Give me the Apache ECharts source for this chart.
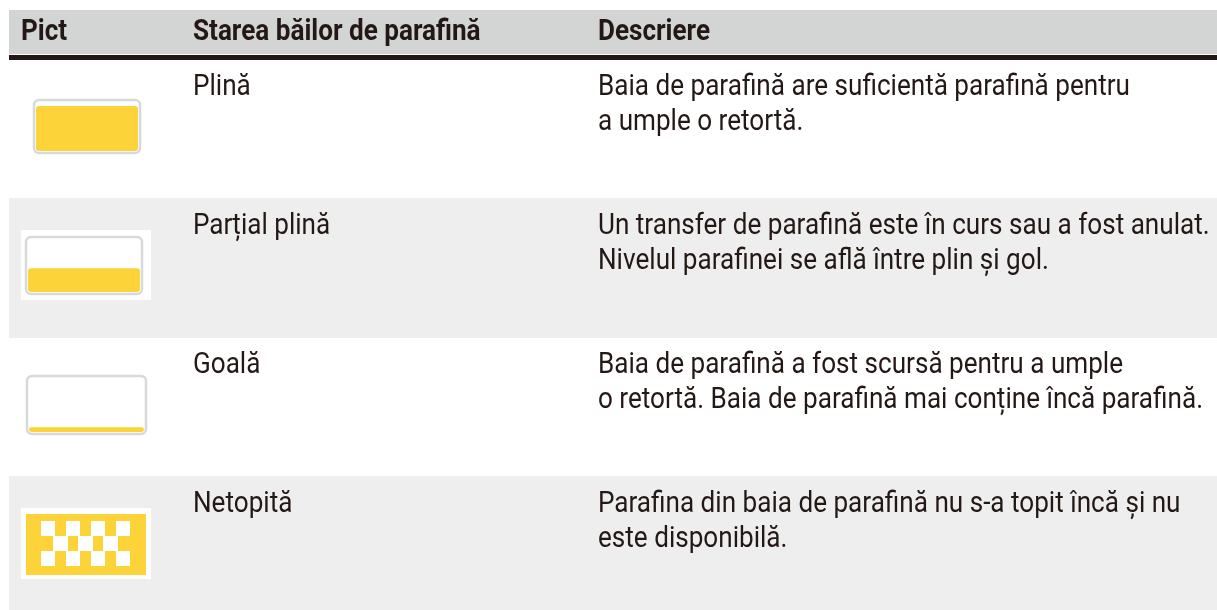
<!DOCTYPE html>
<html>
<head>
<meta charset="utf-8">
<title>Starea băilor de parafină</title>
<style>
    html, body { margin: 0; padding: 0; background: #fff; }
    #chart { width: 1217px; height: 610px; }
</style>
<script src="https://cdn.jsdelivr.net/npm/echarts@6/dist/echarts.min.js"></script>
</head>
<body>
<div id="chart"></div>
<script>
const headers = ['Pict', 'Starea băilor de parafină', 'Descriere'];
const states = ['Plină', 'Parțial plină', 'Goală', 'Netopită'];
const descriptions = [
    'Baia de parafină are suficientă parafină pentru\na umple o retortă.',
    'Un transfer de parafină este în curs sau a fost anulat.\nNivelul parafinei se află între plin și gol.',
    'Baia de parafină a fost scursă pentru a umple\no retortă. Baia de parafină mai conține încă parafină.',
    'Parafina din baia de parafină nu s-a topit încă și nu\neste disponibilă.'
];
// how full each pictogram is, in percent; the last one is the melted-pattern icon
const fillLevels = [92, 45, 9, 100];

const dark = '#231815';
const yellow = '#fdd33a';
const fontBody = '400 29px Roboto';
const fontHead = '700 29px Roboto';
const squeeze = 0.9; // no condensed face installed, so narrow Roboto instead
const columnX = [21, 193, 598];
const rowHeight = 139;
const gridTop = 60;
const gridHeight = 610 - gridTop;

// pictogram placement, top is relative to the row
const icons = [
    {x: 33, top: 39, w: 108, h: 55, inset: 3},
    {x: 25, top: 37, w: 118, h: 59, inset: 3, backing: {x: 21, top: 31, w: 130, h: 70}},
    {x: 26, top: 37, w: 121, h: 60, inset: 3},
    {x: 26, top: 37, w: 120, h: 61, backing: {x: 21, top: 31, w: 130, h: 71}}
];

function rect(x, y, w, h, style, r) {
    return {type: 'rect', shape: {x: x, y: y, width: w, height: h, r: r || 0}, style: style};
}

function label(x, y, text, font) {
    return {
        type: 'text', x: x, y: y, scaleX: squeeze,
        style: {x: 0, y: 0, text: text, font: font, fill: dark, lineHeight: 35, textBaseline: 'top'}
    };
}

function renderRow(params, api) {
    const i = api.value(1);
    const band = api.size([0, 1])[1];
    const top = api.coord([0, i])[1] - band / 2;
    const left = api.coord([9, i])[0];
    const right = api.coord([1217, i])[0];
    const icon = icons[i];
    const children = [];

    if (i % 2 === 1) {
        children.push(rect(left, top, right - left, band, {fill: '#eeeeee'}));
    } else {
        children.push(rect(left, top + band - 1, right - left, 1, {fill: '#f0f0f0'}));
    }
    if (icon.backing) {
        const b = icon.backing;
        children.push(rect(b.x, top + b.top, b.w, b.h, {fill: '#fff'}));
    }

    const y = top + icon.top;
    if (i < 3) {
        children.push(rect(icon.x + 1, y + 1, icon.w - 2, icon.h - 2, {fill: '#fff', stroke: '#d8d9da', lineWidth: 2.5}, 5));
        const inner = icon.h - icon.inset * 2;
        const fillH = inner * api.value(0) / 100;
        children.push(rect(icon.x + icon.inset, y + icon.h - icon.inset - fillH, icon.w - icon.inset * 2, fillH, {fill: yellow}, 3));
    } else {
        children.push(rect(icon.x, y, icon.w, icon.h, {fill: yellow}));
        [15, 40, 65, 90].forEach((dx) => {
            children.push(rect(icon.x + dx, y + 7, 14, 15, {fill: '#fff'}));
            children.push(rect(icon.x + dx, y + 37, 14, 15, {fill: '#fff'}));
        });
        [27, 52, 77].forEach((dx) => {
            children.push(rect(icon.x + dx, y + 22, 15, 15, {fill: '#fff'}));
        });
    }

    children.push(label(columnX[1], top + 10, states[i], fontBody));
    children.push(label(columnX[2], top + 10, descriptions[i], fontBody));
    return {type: 'group', children: children};
}

const chart = echarts.init(document.getElementById('chart'), null, {renderer: 'canvas'});

const option = {
    animation: false,
    backgroundColor: '#fff',
    grid: {left: 0, top: gridTop, width: 1217, height: gridHeight},
    xAxis: {type: 'value', min: 0, max: 1217, show: false},
    // rows are numbered 0..3, the last one runs off the bottom of the page
    yAxis: {type: 'value', inverse: true, min: -0.5, max: gridHeight / rowHeight - 0.5, show: false},
    series: [{
        type: 'custom',
        clip: false,
        silent: true,
        renderItem: renderRow,
        data: states.map((s, i) => [fillLevels[i], i]),
        encode: {x: 0, y: 1}
    }],
    graphic: [
        {type: 'rect', shape: {x: 9, y: 10, width: 1208, height: 44}, style: {fill: '#d3d5d5'}},
        {type: 'rect', shape: {x: 9, y: 55, width: 1208, height: 5}, style: {fill: dark}}
    ].concat(headers.map((h, i) => ({
        type: 'text', x: columnX[i], y: 18, scaleX: squeeze,
        style: {x: 0, y: 0, text: h, font: fontHead, fill: dark, textBaseline: 'top'}
    })))
};

chart.setOption(option);
</script>
</body>
</html>
